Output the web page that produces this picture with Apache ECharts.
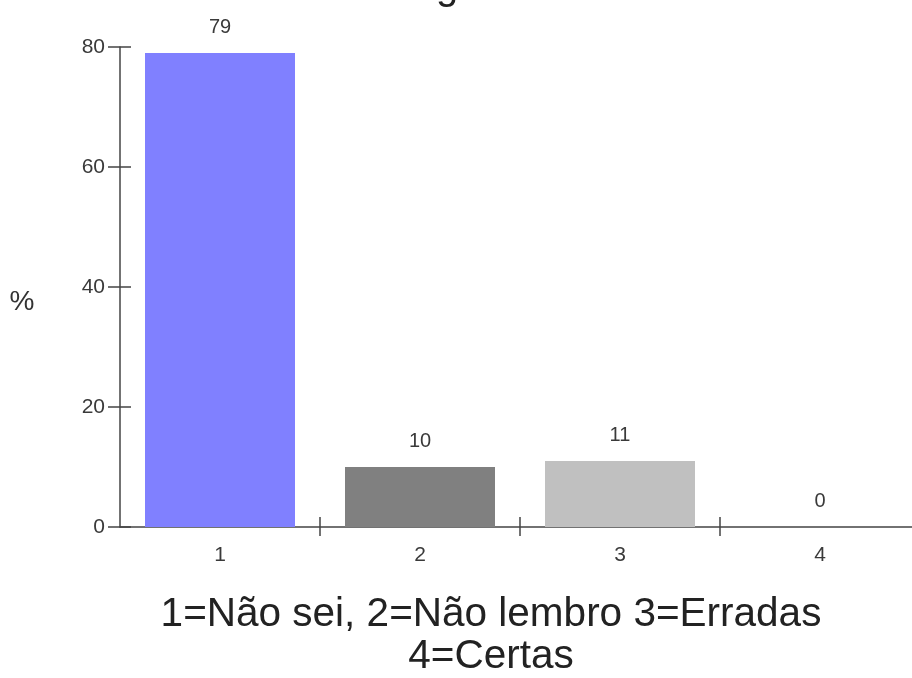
<!DOCTYPE html>
<html>
<head>
<meta charset="utf-8">
<script src="https://cdn.jsdelivr.net/npm/echarts@6/dist/echarts.min.js"></script>
<style>
  html, body { margin: 0; padding: 0; background: #fff; overflow: hidden; }
  /* the plot runs a little past the right edge of the window */
  #chart { width: 920px; height: 678px; }
</style>
</head>
<body>
<div id="chart"></div>
<script>
// Answer categories and their percentages
const categories = ['1', '2', '3', '4'];
const percentValues = [79, 10, 11, 0];
const barColors = ['#8080ff', '#808080', '#c0c0c0', '#ffffff'];
const yTicks = { min: 0, max: 80, step: 20 };
const yAxisTitle = '%';
const xAxisTitle = ['1=Não sei, 2=Não lembro 3=Erradas', '4=Certas'];
const chartTitle = 'g';

const FONT = 'Arial, "Liberation Sans", sans-serif';
const AXIS_COLOR = '#444';
const TEXT_COLOR = '#3a3a3a';

const chart = echarts.init(document.getElementById('chart'), null, { renderer: 'canvas' });

const baseX = {
  type: 'category',
  data: categories,
  position: 'bottom',
  boundaryGap: true,
  axisLine: { show: true, lineStyle: { color: AXIS_COLOR, width: 1.5 } },
  axisTick: {
    show: true, length: 9, inside: false,
    interval: (i) => i > 0,
    lineStyle: { color: AXIS_COLOR, width: 1.5 }
  },
  axisLabel: { color: TEXT_COLOR, fontFamily: FONT, fontSize: 21, margin: 18 },
  splitLine: { show: false }
};

const baseY = {
  type: 'value',
  min: yTicks.min, max: yTicks.max, interval: yTicks.step,
  position: 'left',
  axisLine: { show: true, lineStyle: { color: AXIS_COLOR, width: 1.5 } },
  axisTick: { show: true, length: 12, lineStyle: { color: AXIS_COLOR, width: 1.5 } },
  axisLabel: { color: TEXT_COLOR, fontFamily: FONT, fontSize: 21, margin: 15 },
  splitLine: { show: false }
};

chart.setOption({
  animation: false,
  backgroundColor: '#ffffff',
  grid: { left: 120, top: 47, right: 0, bottom: 151, containLabel: false },
  xAxis: [
    baseX,
    Object.assign({}, baseX, {
      axisLine: { show: false },
      axisLabel: { show: false },
      axisTick: Object.assign({}, baseX.axisTick, { inside: true, length: 10 })
    })
  ],
  yAxis: [
    baseY,
    Object.assign({}, baseY, {
      axisLine: { show: false },
      axisLabel: { show: false },
      axisTick: Object.assign({}, baseY.axisTick, { inside: true, length: 11 })
    })
  ],
  series: [{
    type: 'bar',
    xAxisIndex: 0,
    yAxisIndex: 0,
    barWidth: '75%',
    data: percentValues.map((v, i) => ({ value: v, itemStyle: { color: barColors[i] } })),
    label: {
      show: true,
      position: 'top',
      distance: 16,
      color: TEXT_COLOR,
      fontFamily: FONT,
      fontSize: 20
    }
  }],
  graphic: [
    {
      type: 'text', x: 447, y: -32,
      style: { text: chartTitle, fontFamily: FONT, fontSize: 40, fill: '#222', align: 'center' }
    },
    {
      type: 'text', x: 22, y: 302,
      style: { text: yAxisTitle, fontFamily: FONT, fontSize: 28, fill: '#333', align: 'center', verticalAlign: 'middle' }
    },
    {
      type: 'text', x: 491, y: 594,
      style: {
        text: xAxisTitle.join('\n'), fontFamily: FONT, fontSize: 40.5,
        lineHeight: 42, align: 'center', fill: '#222'
      }
    }
  ]
});
</script>
</body>
</html>
